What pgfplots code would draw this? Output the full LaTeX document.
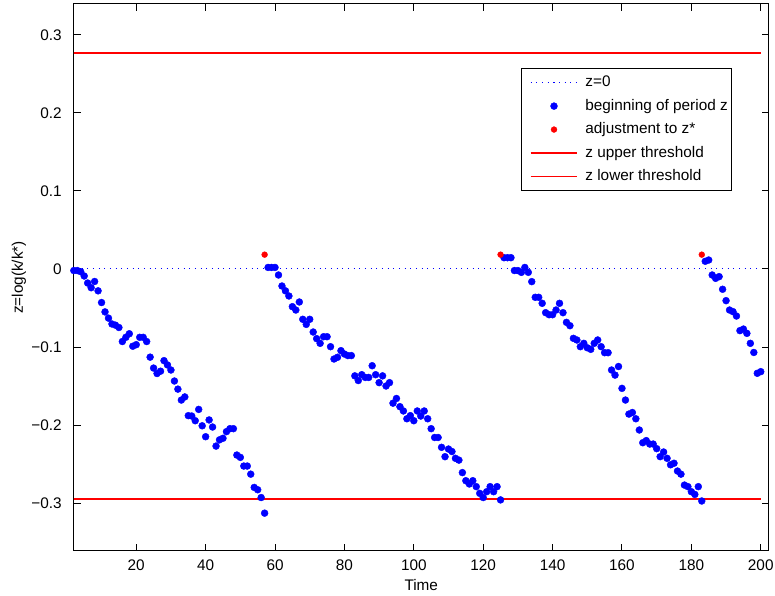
\documentclass[border=0pt]{standalone}
\usepackage{pgfplots}
\pgfplotsset{compat=1.18}
\usepackage{pgfplotstable}
\usepackage{fontspec}
\setmainfont{Liberation Sans}

\definecolor{mblue}{rgb}{0,0,1}
\definecolor{mred}{rgb}{1,0,0}

% log deviation of capital at the beginning of each period
\pgfplotstableread{
t z
2 -0.002
3 -0.002
4 -0.0035
5 -0.009
6 -0.018
7 -0.024
8 -0.016
9 -0.028
10 -0.043
11 -0.055
12 -0.063
13 -0.0705
14 -0.072
15 -0.075
16 -0.093
17 -0.0876
18 -0.083
19 -0.099
20 -0.097
21 -0.0876
22 -0.0876
23 -0.093
24 -0.113
25 -0.127
26 -0.134
27 -0.131
28 -0.1175
29 -0.123
30 -0.1295
31 -0.1436
32 -0.154
33 -0.168
34 -0.164
35 -0.188
36 -0.1885
37 -0.1945
38 -0.180
39 -0.201
40 -0.215
41 -0.1935
42 -0.2026
43 -0.227
44 -0.219
45 -0.217
46 -0.2085
47 -0.2047
48 -0.2047
49 -0.2385
50 -0.2415
51 -0.2526
52 -0.2526
53 -0.263
54 -0.280
55 -0.283
56 -0.293
57 -0.313
58 0.002
59 0.002
60 0.002
61 -0.0077
62 -0.0218
63 -0.028
64 -0.0346
65 -0.0483
66 -0.0526
67 -0.0423
68 -0.0645
69 -0.071
70 -0.0645
71 -0.0808
72 -0.0893
73 -0.0953
74 -0.0868
75 -0.0868
76 -0.0996
77 -0.1154
78 -0.1132
79 -0.1047
80 -0.109
81 -0.111
82 -0.111
83 -0.137
84 -0.143
85 -0.1355
86 -0.139
87 -0.139
88 -0.124
89 -0.1355
90 -0.1457
91 -0.137
92 -0.150
93 -0.1457
94 -0.172
95 -0.166
96 -0.1765
97 -0.182
98 -0.192
99 -0.188
100 -0.1945
101 -0.182
102 -0.1885
103 -0.182
104 -0.192
105 -0.2047
106 -0.216
107 -0.216
108 -0.2286
109 -0.2406
110 -0.2308
111 -0.234
112 -0.2427
113 -0.245
114 -0.261
115 -0.2714
116 -0.2756
117 -0.2714
118 -0.279
119 -0.2876
120 -0.293
121 -0.2855
122 -0.279
123 -0.2855
124 -0.279
125 -0.296
126 0.0145
127 0.0145
128 0.0145
129 -0.002
130 -0.002
131 -0.0043
132 0.002
133 -0.0043
134 -0.0162
135 -0.0363
136 -0.0363
137 -0.044
138 -0.056
139 -0.0586
140 -0.0586
141 -0.0526
142 -0.044
143 -0.056
144 -0.0684
145 -0.0727
146 -0.0889
147 -0.091
148 -0.0996
149 -0.0953
150 -0.101
151 -0.103
152 -0.0953
153 -0.091
154 -0.0996
155 -0.1073
156 -0.1073
157 -0.1295
158 -0.136
159 -0.125
160 -0.153
161 -0.168
162 -0.186
163 -0.184
164 -0.192
165 -0.2064
166 -0.2227
167 -0.220
168 -0.2244
169 -0.2244
170 -0.2303
171 -0.2406
172 -0.2346
173 -0.2427
174 -0.251
175 -0.249
176 -0.259
177 -0.263
178 -0.277
179 -0.279
180 -0.2855
181 -0.289
182 -0.279
183 -0.2974
184 0.0099
185 0.0115
186 -0.0077
187 -0.012
188 -0.0098
189 -0.026
190 -0.0406
191 -0.0526
192 -0.0547
193 -0.0603
194 -0.079
195 -0.077
196 -0.0825
197 -0.0953
198 -0.107
199 -0.1337
200 -0.1316
}\beginz

% periods in which capital is reset to the target z*
\pgfplotstableread{
t z
57 0.0184
125 0.0184
183 0.0184
}\adjz

\begin{document}
\begin{tikzpicture}[font=\fontsize{11.5}{13}\selectfont]
% canvas
\path (-55.35pt,-33.75pt) rectangle (525.9pt,413.25pt);
\begin{axis}[
  at={(0pt,0pt)}, anchor=south west,
  scale only axis, width=521.2pt, height=410.25pt,
  xmin=2, xmax=202.3, ymin=-0.3615, ymax=0.3397,
  axis line style={line width=0.75pt, black},
  every tick/.style={line width=0.75pt, black},
  tick align=inside, major tick length=5.2pt,
  xtick={20,40,...,200},
  xticklabels={20,40,60,80,100,120,140,160,180,200},
  ytick={-0.3,-0.2,-0.1,0,0.1,0.2,0.3},
  yticklabels={−0.3,−0.2,−0.1,0,0.1,0.2,0.3},
  xticklabel style={anchor=center, inner sep=0pt, yshift=-10.5pt},
  yticklabel style={anchor=east, inner sep=0pt, xshift=-8.9pt},
  xlabel={Time},
  ylabel={z=log(k/k*)},
  xlabel style={at={(axis description cs:0.5,-0.062)}, anchor=center},
  ylabel style={at={(axis description cs:-0.0789,0.5)}, anchor=center},
  legend cell align=left,
  legend style={
    at={(0.6431,0.8825)}, anchor=north west,
    draw=black, line width=0.75pt, fill=white,
    inner xsep=1.5pt, inner ysep=1.6pt,
    column sep=3.75pt, row sep=0pt,
    nodes={inner xsep=1.5pt, inner ysep=3.4pt, text height=8.4pt, text depth=2.4pt},
    font=\fontsize{11.5}{13}\selectfont,
  },
  legend image code/.code={
    \path[draw=none, fill=none, mark=none] (0pt,0pt) -- (0.1pt,0pt);
    \draw[mark repeat=2,mark phase=2] plot coordinates {(5.5pt,0pt) (23.1pt,0pt) (40.7pt,0pt)};
  },
]
\addplot[mblue, line width=0.75pt, dash pattern=on 0.75pt off 3.5pt]
  coordinates {(1,0) (200,0)};
\addlegendentry{z=0}

\addplot[only marks, mark=*, mark size=2.6pt, mblue,
         mark options={draw=mblue, fill=mblue, line width=0.3pt}]
  table[x=t, y=z] {\beginz};
\addlegendentry{beginning of period z}

\addplot[only marks, mark=*, mark size=2.2pt, mred,
         mark options={draw=mred, fill=mred, line width=0.3pt}]
  table[x=t, y=z] {\adjz};
\addlegendentry{adjustment to z*}

\addplot[mred, line width=1.4pt] coordinates {(1,0.2773) (200,0.2773)};
\addlegendentry{z upper threshold}

\addplot[mred, line width=1.4pt] coordinates {(1,-0.2953) (200,-0.2953)};
\addlegendentry{z lower threshold}
\end{axis}
\end{tikzpicture}
\end{document}
